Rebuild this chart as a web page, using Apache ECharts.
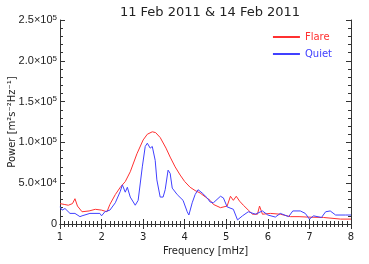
<!DOCTYPE html>
<html><head><meta charset="utf-8">
<script src="https://cdn.jsdelivr.net/npm/echarts@6/dist/echarts.min.js"></script>
<style>html,body{margin:0;padding:0;background:#fff}#c{width:369px;height:264px}</style>
</head><body><div id="c"></div>
<script>
const flareFreq = [1.0,1.1,1.2,1.3,1.36,1.42,1.53,1.7,1.85,2.0,2.13,2.2,2.33,2.45,2.57,2.69,2.85,3.0,3.1,3.22,3.3,3.41,3.55,3.65,3.77,3.89,4.0,4.13,4.25,4.37,4.5,4.61,4.69,4.86,5.02,5.1,5.17,5.24,5.32,5.41,5.53,5.63,5.75,5.8,5.87,6.06,6.3,6.54,6.75,6.95,7.34,7.75,8.0];
const flarePower = [25,24,23,25,31,22,15,16,18,17,15,24,36,45,52,64,86,103,110,113,112,106,93,82,70,60,52,45,41,38,33,29,24,20,22,34,29,34,28,23,17,12,12,22,12,13,12,9,9,8.5,8,6,6].map(v=>v*1000);
const quietFreq = [1.0,1.05,1.12,1.24,1.36,1.48,1.53,1.72,1.96,2.0,2.08,2.2,2.33,2.45,2.5,2.57,2.62,2.69,2.81,2.88,2.98,3.05,3.1,3.17,3.22,3.29,3.33,3.41,3.48,3.53,3.6,3.65,3.7,3.82,3.96,4.06,4.1,4.18,4.25,4.32,4.42,4.54,4.61,4.69,4.86,4.93,5.02,5.17,5.27,5.39,5.53,5.7,5.87,6.0,6.18,6.3,6.5,6.6,6.78,6.9,7.0,7.1,7.29,7.39,7.5,7.63,7.87,8.0];
const quietPower = [21,17,19,13,13,9,10,13,13,10,15,17,26,40,48,39,45,33,23,29,70,95,99,93,95,78,54,33,33,42,66,62,44,36,29,15,11,26,36,42,38,32,27,26,34,32,21,18,5,10,15,12,16,11,8.5,13,9,16,16,13,6,10,8,15,16,11,11,11].map(v=>v*1000);
const yTickLabels = {0:'0',50000:'5.0×10{s|4}',100000:'1.0×10{s|5}',150000:'1.5×10{s|5}',200000:'2.0×10{s|5}',250000:'2.5×10{s|5}'};
const seriesNames = ['Flare','Quiet'];
const seriesColors = ['#ff3030','#4040ff'];

const chart = echarts.init(document.getElementById('c'), null, {renderer:'canvas'});
const font = 'DejaVu Sans';
const lfont = 'Liberation Sans';
function ax(extra, split){
  return Object.assign({
    axisLine:{show:true,lineStyle:{color:'#333',width:1}},
    axisTick:{show:true,inside:true,length:5,lineStyle:{color:'#333'}},
    minorTick:{show:true,splitNumber:split,length:3,lineStyle:{color:'#333'}},
    splitLine:{show:false}
  }, extra);
}
chart.setOption({
  animation:false,
  title:{text:'11 Feb 2011 & 14 Feb 2011',left:205,top:1,textAlign:'center',
    textStyle:{fontFamily:font,fontSize:13,fontWeight:'normal',color:'#222'}},
  legend:{orient:'vertical',right:32,top:27,itemGap:7,itemWidth:27,itemHeight:2,
    icon:'rect',
    data:[{name:seriesNames[0],textStyle:{color:seriesColors[0]}},{name:seriesNames[1],textStyle:{color:seriesColors[1]}}],
    textStyle:{fontFamily:font,fontSize:10}},
  grid:{left:60,right:18,top:20,bottom:40,containLabel:false,outerBoundsMode:'none'},
  xAxis:[
    ax({type:'value',min:1,max:8,interval:1,position:'bottom',
      axisLabel:{fontFamily:font,fontSize:10,color:'#222',margin:8},
      name:'Frequency [mHz]',nameLocation:'middle',nameGap:22,
      nameTextStyle:{fontFamily:font,fontSize:10,color:'#222'}},10),
    ax({type:'value',min:1,max:8,interval:1,position:'top',axisLabel:{show:false}},10)
  ],
  yAxis:[
    ax({type:'value',min:0,max:250000,interval:50000,position:'left',
      axisLabel:{fontFamily:lfont,fontSize:11,color:'#222',margin:3,formatter:v=>yTickLabels[v],
        rich:{s:{fontFamily:lfont,fontSize:8,color:'#222',padding:[0,0,5,0]}}},
      name:'Power [m²s⁻²Hz⁻¹]',nameLocation:'middle',nameGap:43,nameRotate:90,nameMoveOverlap:false,
      nameTextStyle:{fontFamily:font,fontSize:10,color:'#222'}},5),
    ax({type:'value',min:0,max:250000,interval:50000,position:'right',axisLabel:{show:false}},5)
  ],
  series:[
    {name:seriesNames[0],type:'line',xAxisIndex:0,yAxisIndex:0,showSymbol:false,symbol:'none',
      lineStyle:{color:seriesColors[0],width:1},itemStyle:{color:seriesColors[0]},
      data:flareFreq.map((f,i)=>[f,flarePower[i]])},
    {name:seriesNames[1],type:'line',xAxisIndex:0,yAxisIndex:0,showSymbol:false,symbol:'none',
      lineStyle:{color:seriesColors[1],width:1},itemStyle:{color:seriesColors[1]},
      data:quietFreq.map((f,i)=>[f,quietPower[i]])}
  ]
});
</script></body></html>
